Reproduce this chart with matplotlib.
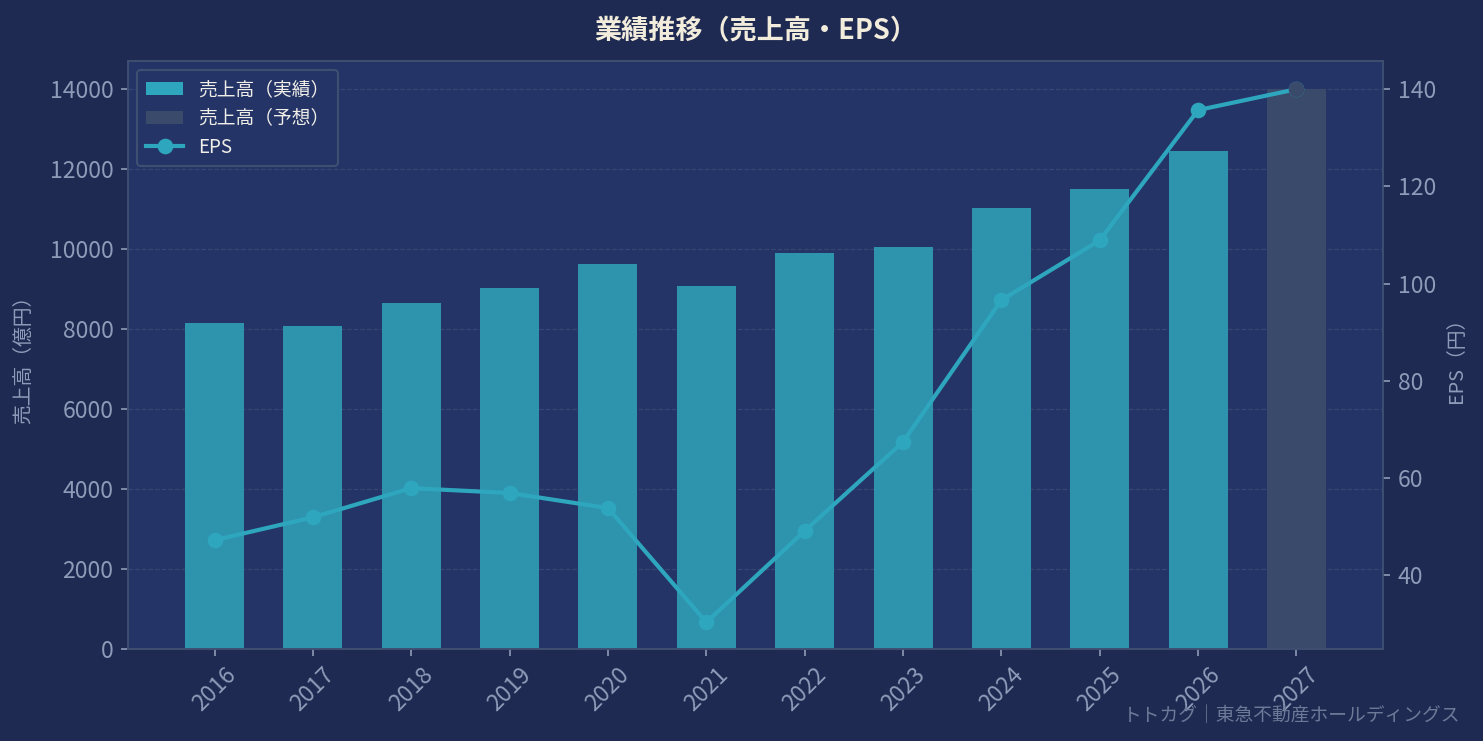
import matplotlib.pyplot as plt
from matplotlib.patches import Patch
from matplotlib.lines import Line2D

years = ['2016', '2017', '2018', '2019', '2020', '2021',
         '2022', '2023', '2024', '2025', '2026', '2027']
sales = [8150, 8075, 8650, 9025, 9625, 9075,
         9900, 10050, 11025, 11500, 12450, 14000]
eps = [47.2, 51.9, 57.9, 56.9, 53.8, 30.3,
       49.1, 67.4, 96.6, 108.9, 135.7, 140.0]
forecast_years = ['2027']

FIG_BG = '#1e2a52'
AX_BG = '#243466'
TEAL = '#2ea6be'
BAR_TEAL = '#2e93ad'
FORECAST = '#3a4a6b'
SPINE = '#3f4f72'
TICK = '#8d9cb8'
TITLE = '#f2ecdc'

plt.rcParams['font.family'] = ['Noto Sans CJK JP', 'DejaVu Sans']

fig = plt.figure(figsize=(1483 / 150, 741 / 150), dpi=150, facecolor=FIG_BG)
ax = fig.add_axes([128 / 1483, 1 - 649 / 741, (1383 - 128) / 1483, (649 - 61) / 741])
ax.set_facecolor(AX_BG)

bar_colors = [FORECAST if y in forecast_years else BAR_TEAL for y in years]
ax.bar(years, sales, width=0.6, color=bar_colors, zorder=2)
ax.set_ylim(0, 14700)
ax.grid(axis='y', linestyle='--', color='#3b4b78', linewidth=0.6, alpha=0.8, zorder=0)
ax.set_axisbelow(True)

ax2 = ax.twinx()
ax2.plot(years, eps, color=TEAL, linewidth=2.0, marker='o', markersize=6.5, zorder=3)
fc_idx = [i for i, y in enumerate(years) if y in forecast_years]
ax2.plot([years[i] for i in fc_idx], [eps[i] for i in fc_idx], 'o',
         color=FORECAST, markersize=6.5, zorder=4)
ax2.set_ylim(24.8, 145.8)
ax2.set_yticks([40, 60, 80, 100, 120, 140])

for a in (ax, ax2):
    for s in a.spines.values():
        s.set_color(SPINE)
    a.tick_params(colors=TICK, labelsize=11)

ax.tick_params(axis='x', rotation=45)
for lbl in ax.get_xticklabels():
    lbl.set_ha('center')

ax.set_ylabel('売上高（億円）', color=TICK, fontsize=9.5, labelpad=7)
ax2.set_ylabel('EPS（円）', color=TICK, fontsize=9.5, labelpad=5)
ax.set_title('業績推移（売上高・EPS）', color=TITLE, fontsize=13, fontweight='bold', pad=11)

handles = [
    Patch(facecolor=TEAL, label='売上高（実績）'),
    Patch(facecolor=FORECAST, label='売上高（予想）'),
    Line2D([0], [0], color=TEAL, linewidth=2.0, marker='o', markersize=6.5, label='EPS'),
]
leg = ax2.legend(handles=handles, loc='upper left', fontsize=9,
                 facecolor=AX_BG, edgecolor=SPINE, framealpha=1,
                 labelcolor='#f0eee8', borderpad=0.45, labelspacing=0.42)
leg.get_frame().set_linewidth(1.0)

fig.text(0.985, 0.035, 'トトカグ｜東急不動産ホールディングス', ha='right', va='center',
         color='#6c7a98', fontsize=9)

fig.savefig('out.png', dpi=150, facecolor=FIG_BG)
